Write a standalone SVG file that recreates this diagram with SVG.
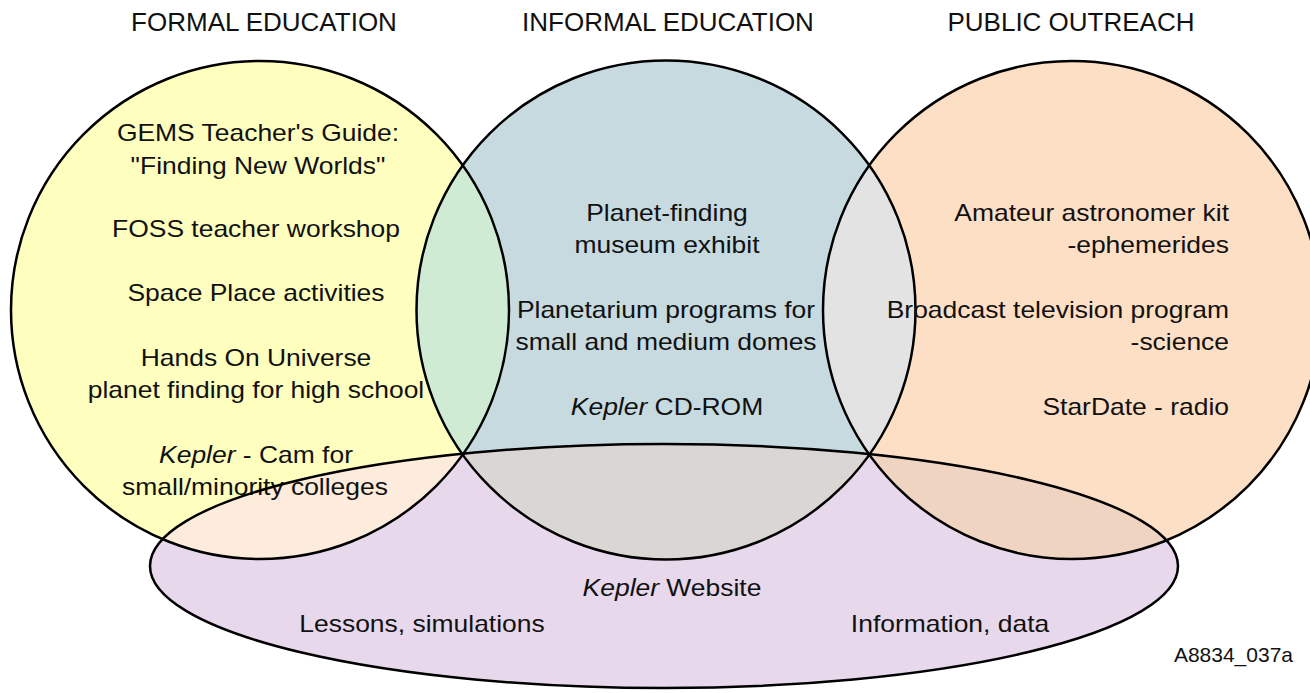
<svg xmlns="http://www.w3.org/2000/svg" width="1310" height="693" viewBox="0 0 1310 693">
<style>
text{font-family:"Liberation Sans",Arial,sans-serif;fill:#111;}
.h{font-size:26px;text-anchor:middle;}
.b{font-size:23px;text-anchor:middle;}
.r{font-size:23px;text-anchor:end;}
.i{font-style:italic;}
.o{fill:none;stroke:#000;stroke-width:2.5;}
</style>
<defs>
<clipPath id="cA"><circle cx="260" cy="310" r="249"/></clipPath>
<clipPath id="cB"><circle cx="666" cy="310" r="249.5"/></clipPath>
<clipPath id="cC"><circle cx="1072" cy="310" r="249"/></clipPath>
</defs>
<rect width="1310" height="693" fill="#fff"/>
<g id="fills">
<circle cx="260" cy="310" r="249" fill="#FEFEBF"/>
<circle cx="666" cy="310" r="249.5" fill="#C6DAE0"/>
<circle cx="1072" cy="310" r="249" fill="#FDDFC5"/>
<ellipse cx="664" cy="566" rx="514" ry="122" fill="#E7D8EB"/>
<circle cx="666" cy="310" r="249.5" fill="#CFEBD3" clip-path="url(#cA)"/>
<circle cx="1072" cy="310" r="249" fill="#E3E3E3" clip-path="url(#cB)"/>
<ellipse cx="664" cy="566" rx="514" ry="122" fill="#FDEBDC" clip-path="url(#cA)"/>
<ellipse cx="664" cy="566" rx="514" ry="122" fill="#DAD6D3" clip-path="url(#cB)"/>
<ellipse cx="664" cy="566" rx="514" ry="122" fill="#EFD4C1" clip-path="url(#cC)"/>
</g>
<g id="node-formal">
<circle class="o" cx="260" cy="310" r="249"/>
<text class="h" x="264" y="31">FORMAL EDUCATION</text>
<text class="b" transform="translate(258,141) scale(1.15,1)">GEMS Teacher's Guide:</text>
<text class="b" transform="translate(258,174) scale(1.15,1)">"Finding New Worlds"</text>
<text class="b" transform="translate(256,237) scale(1.15,1)">FOSS teacher workshop</text>
<text class="b" transform="translate(256,301) scale(1.15,1)">Space Place activities</text>
<text class="b" transform="translate(256,366) scale(1.15,1)">Hands On Universe</text>
<text class="b" transform="translate(256,398) scale(1.15,1)">planet finding for high school</text>
<text class="b" transform="translate(256,463) scale(1.15,1)"><tspan class="i">Kepler</tspan> - Cam for</text>
<text class="b" transform="translate(255,495) scale(1.15,1)">small/minority colleges</text>
</g>
<g id="node-informal">
<circle class="o" cx="666" cy="310" r="249.5"/>
<text class="h" x="668" y="31">INFORMAL EDUCATION</text>
<text class="b" transform="translate(667,221) scale(1.15,1)">Planet-finding</text>
<text class="b" transform="translate(667,253) scale(1.15,1)">museum exhibit</text>
<text class="b" transform="translate(666,318) scale(1.15,1)">Planetarium programs for</text>
<text class="b" transform="translate(666,350) scale(1.15,1)">small and medium domes</text>
<text class="b" transform="translate(667,415) scale(1.15,1)"><tspan class="i">Kepler</tspan> CD-ROM</text>
</g>
<g id="node-public">
<circle class="o" cx="1072" cy="310" r="249"/>
<text class="h" x="1071" y="31">PUBLIC OUTREACH</text>
<text class="r" transform="translate(1229,221) scale(1.15,1)">Amateur astronomer kit</text>
<text class="r" transform="translate(1229,253) scale(1.15,1)">-ephemerides</text>
<text class="r" transform="translate(1229,318) scale(1.15,1)">Broadcast television program</text>
<text class="r" transform="translate(1229,350) scale(1.15,1)">-science</text>
<text class="r" transform="translate(1229,415) scale(1.15,1)">StarDate - radio</text>
</g>
<g id="node-website">
<ellipse class="o" cx="664" cy="566" rx="514" ry="122"/>
<text class="b" transform="translate(672,596) scale(1.15,1)"><tspan class="i">Kepler</tspan> Website</text>
<text class="b" transform="translate(422,632) scale(1.15,1)">Lessons, simulations</text>
<text class="b" transform="translate(950,632) scale(1.15,1)">Information, data</text>
</g>
<g id="connectors"/>
<text x="1293" y="662" style="font-size:21px;text-anchor:end">A8834_037a</text>
</svg>
